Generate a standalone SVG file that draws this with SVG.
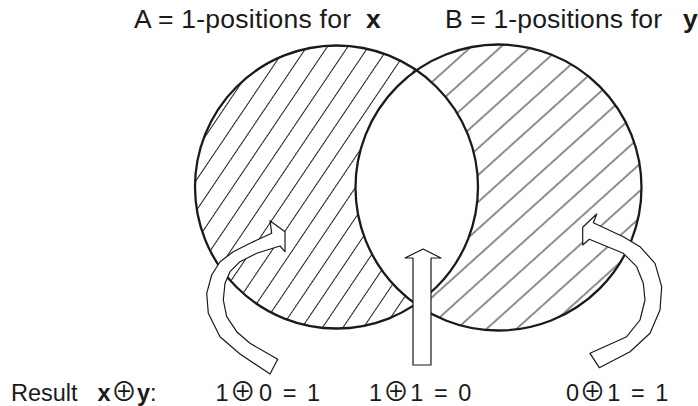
<svg xmlns="http://www.w3.org/2000/svg" width="698" height="406" viewBox="0 0 698 406">
<style>
.lbl{font-family:"Liberation Sans",Arial,sans-serif;fill:#1a1a1a}
.top{font-size:26.5px}
.bot{font-size:23.5px}
.b{font-weight:bold}
.op{font-family:"Noto Sans CJK JP","DejaVu Sans",sans-serif;font-size:26px;fill:#1a1a1a}
.ring{fill:none;stroke:#1a1a1a;stroke-width:2.3}
.arr{fill:#fff;stroke:#1a1a1a;stroke-width:1.2;stroke-linejoin:round}
</style>
<defs>
<pattern id="hatchA" patternUnits="userSpaceOnUse" width="40" height="17" patternTransform="rotate(-56)">
<line x1="0" y1="8.5" x2="40" y2="8.5" stroke="#111" stroke-width="0.95"/>
</pattern>
<pattern id="hatchB" patternUnits="userSpaceOnUse" width="40" height="20" patternTransform="rotate(-42)">
<line x1="0" y1="10" x2="40" y2="10" stroke="#111" stroke-width="0.95"/>
</pattern>
<clipPath id="clipA"><circle cx="336.5" cy="187" r="141.5"/></clipPath>
</defs>

<g id="setA">
<circle cx="336.5" cy="187" r="141.5" fill="url(#hatchA)"/>
</g>
<g id="setB">
<circle cx="498.5" cy="187.5" r="143" fill="url(#hatchB)"/>
</g>
<g id="intersection">
<circle cx="498.5" cy="187.5" r="143" fill="#fff" clip-path="url(#clipA)"/>
</g>
<g id="outlines">
<circle class="ring" cx="336.5" cy="187" r="141.5"/>
<circle class="ring" cx="498.5" cy="187.5" r="143"/>
</g>

<g id="connectors">
<path id="arrow-left" class="arr" d="M270,374 L240,354 L220,336.7 L208.3,313.3 L206.7,293.3 L211.7,275 L220,261.7 L233.3,251.7 L250,243.3 L271.7,233.3 L270,220.7 L285,231.7 L285,251.7 L280,246 L256.7,253.3 L240,261.7 L230,271.7 L225,283.3 L223.3,300 L226.7,316.7 L236.7,331.7 L250,343.3 L277.7,359.3 Z"/>
<path id="arrow-mid" class="arr" d="M413,365 L413,258 L405,258 L423,249 L441,258 L431,258 L431,365 Z"/>
<path id="arrow-right" class="arr" d="M596.7,214 L582.7,227.3 L582.7,245 L589.3,239.3 L623.3,253.3 L636.7,266.7 L643.3,283.3 L645,300 L640,320 L626.7,336.7 L590,353.3 L599.3,367.7 L630,351.7 L650,333.3 L660,310 L661.7,286.7 L655,263.3 L640,246.7 L623.3,236.7 L593.3,222.7 Z"/>
</g>

<g id="labelA">
<text class="lbl top" x="134" y="28" textLength="217" lengthAdjust="spacing">A = 1-positions for</text>
<text class="lbl top b" x="366" y="28">x</text>
</g>
<g id="labelB">
<text class="lbl top" x="445" y="28" textLength="217" lengthAdjust="spacing">B = 1-positions for</text>
<text class="lbl top b" x="683" y="28">y</text>
</g>

<g id="result">
<text class="lbl bot" x="11" y="400.5">Result</text>
<text class="lbl bot b" x="97.5" y="400.5">x</text>
<text class="op" x="124" y="401" text-anchor="middle">⊕</text>
<text class="lbl bot" x="137" y="400.5"><tspan class="b">y</tspan>:</text>
</g>
<g id="r1">
<text class="lbl bot" x="215.5" y="400.5">1</text>
<text class="op" x="242.7" y="401" text-anchor="middle">⊕</text>
<text class="lbl bot" x="259" y="400.5" textLength="61" lengthAdjust="spacing">0 = 1</text>
</g>
<g id="r2">
<text class="lbl bot" x="369" y="400.5">1</text>
<text class="op" x="396" y="401" text-anchor="middle">⊕</text>
<text class="lbl bot" x="410.3" y="400.5" textLength="61" lengthAdjust="spacing">1 = 0</text>
</g>
<g id="r3">
<text class="lbl bot" x="566" y="400.5">0</text>
<text class="op" x="592.5" y="401" text-anchor="middle">⊕</text>
<text class="lbl bot" x="607.3" y="400.5" textLength="61" lengthAdjust="spacing">1 = 1</text>
</g>
</svg>
